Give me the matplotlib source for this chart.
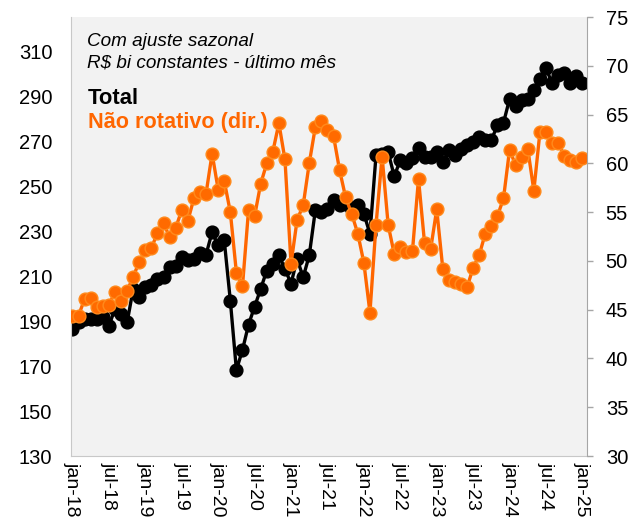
from matplotlib import pyplot as plt

plt.rcParams["font.family"] = ["Liberation Sans", "DejaVu Sans"]

# monthly values, jan-18 .. jan-25
total = [186.6, 189.5, 191.0, 191.0, 191.0, 192.0, 188.0, 195.5, 193.3, 189.5,
         204.4, 200.7, 205.2, 206.0, 208.9, 209.6, 214.0, 214.8, 218.8, 217.4,
         217.8, 220.3, 219.7, 229.7, 223.8, 226.0, 199.2, 168.3, 177.2, 188.5,
         196.5, 204.4, 212.6, 215.6, 219.3, 213.4, 206.7, 217.8, 209.6, 219.3,
         239.4, 238.6, 240.1, 243.8, 241.6, 242.3, 239.4, 241.6, 237.9, 229.0,
         263.9, 264.3, 265.4, 254.6, 261.7, 260.7, 262.5, 267.0, 263.0, 263.2,
         265.4, 261.0, 266.2, 264.0, 266.9, 268.4, 269.9, 272.1, 270.7, 270.7,
         277.3, 278.4, 289.0, 285.8, 288.5, 289.2, 292.9, 297.9, 302.9, 295.9,
         299.6, 300.7, 296.2, 299.2, 296.2]

nao_rotativo = [44.4, 44.4, 46.1, 46.2, 45.3, 45.4, 45.5, 46.8, 45.9, 46.9,
                48.4, 49.9, 51.1, 51.3, 52.9, 53.9, 52.4, 53.4, 55.2, 54.1,
                56.4, 57.1, 56.9, 61.0, 57.3, 58.2, 55.0, 48.8, 47.4, 55.2,
                54.6, 57.9, 60.0, 61.2, 64.1, 60.4, 49.7, 54.2, 55.7, 60.0,
                63.7, 64.3, 63.4, 62.8, 59.3, 56.5, 54.8, 52.8, 49.8, 44.7,
                53.7, 60.7, 53.7, 50.7, 51.4, 50.9, 51.0, 58.4, 51.8, 51.2,
                55.3, 49.2, 48.0, 47.8, 47.6, 47.3, 49.3, 50.6, 52.8, 53.6,
                54.6, 56.4, 61.4, 59.8, 60.6, 61.5, 57.2, 63.2, 63.2, 62.1,
                62.1, 60.8, 60.3, 60.1, 60.5]

tick_labels = ["jan-18", "jul-18", "jan-19", "jul-19", "jan-20", "jul-20",
               "jan-21", "jul-21", "jan-22", "jul-22", "jan-23", "jul-23",
               "jan-24", "jul-24", "jan-25"]
left_ticks = list(range(130, 311, 20))
right_ticks = list(range(30, 76, 5))


def plot():
    fig = plt.figure(figsize=(6.36, 5.27), dpi=100)
    ax = fig.add_axes([0.1116, 0.1347, 0.8113, 0.833])
    ax.set_facecolor("#f2f2f2")
    ax2 = ax.twinx()

    months = list(range(len(total)))
    ax.plot(months, total, color="black", lw=2.4, marker="o", ms=9.2,
            mfc="black", mec="black")
    ax2.plot(months, nao_rotativo, color="#ff6600", lw=2.4, marker="o", ms=9.2,
             mfc="#ff6a00", mec="#ff8a1c")

    ax.set_xlim(-0.25, 84.75)
    ax.set_ylim(130, 325.5)
    ax2.set_ylim(30, 75)
    ax.set_yticks(left_ticks)
    ax2.set_yticks(right_ticks)
    ax.set_xticks(range(0, 85, 6))
    ax.set_xticklabels(tick_labels, rotation=270)

    ax.tick_params(axis="y", length=0, pad=13.5, labelsize=14.5)
    ax.tick_params(axis="x", length=0, pad=4, labelsize=14)
    ax2.tick_params(axis="y", length=4.5, width=1, color="#a6a6a6",
                    pad=9, labelsize=14.5)

    for a in (ax, ax2):
        a.spines["top"].set_visible(False)
    ax.spines["right"].set_visible(False)
    ax.spines["left"].set_color("#c8c8c8")
    ax.spines["bottom"].set_color("#c8c8c8")
    ax2.spines["left"].set_visible(False)
    ax2.spines["bottom"].set_visible(False)
    ax2.spines["right"].set_color("#a6a6a6")

    fig.text(0.137, 0.921, "Com ajuste sazonal", style="italic",
             fontsize=13.6, va="center")
    fig.text(0.137, 0.881, "R$ bi constantes - último mês", style="italic",
             fontsize=13.6, va="center")
    fig.text(0.138, 0.814, "Total", weight="bold", fontsize=15.8, va="center")
    fig.text(0.138, 0.767, "Não rotativo (dir.)", weight="bold", fontsize=15.6,
             color="#ff6600", va="center")

    fig.savefig("out.png", dpi=100)


def main():
    plot()


if __name__ == "__main__":
    main()
